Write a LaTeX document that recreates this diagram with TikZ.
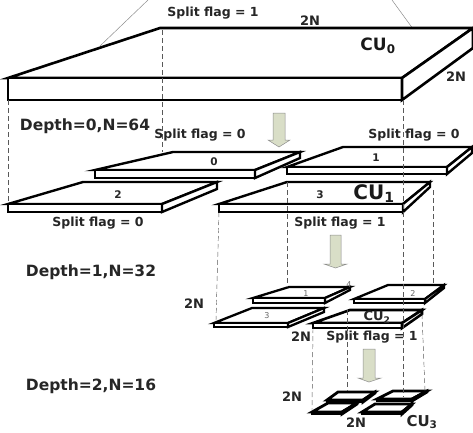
\documentclass[tikz,border=0pt]{standalone}
\usepackage{fontspec}
\setmainfont{DejaVu Sans}
\begin{document}
\begin{tikzpicture}[x=1pt,y=-1pt,
  plateline/.style={draw=black,line join=miter,fill=white},
  guide/.style={draw=black!65,line width=0.45pt,dash pattern=on 5pt off 3pt},
  ray/.style={draw=black!45,line width=0.5pt},
  flag/.style={font=\bfseries\fontsize{12.5}{14}\selectfont,inner sep=0pt,text=black!85},
  dim/.style={font=\bfseries\fontsize{13}{15}\selectfont,inner sep=0pt,text=black!85},
  depth/.style={font=\bfseries\fontsize{15.5}{17}\selectfont,inner sep=0pt,text=black!85},
  num/.style={font=\bfseries\fontsize{10.5}{12}\selectfont,inner sep=0pt,text=black!85},
  tinynum/.style={font=\fontsize{8}{9}\selectfont,inner sep=0pt,text=black!60},
  cu/.style={font=\bfseries\fontsize{17}{19}\selectfont,inner sep=0pt,text=black!90},
  blockarrow/.style={draw=black!45,line width=0.5pt,fill=green!20!yellow!25!gray!35}]
\newcommand{\slab}[9]{%
  \draw[plateline,line width=#9] (#1,#3) -- (#5,#7) -- (#6,#7) -- (#2,#3) -- cycle;
  \draw[plateline,line width=#9] (#1,#3) rectangle (#2,#4);
  \draw[plateline,line width=#9] (#2,#3) -- (#6,#7) -- (#6,#8) -- (#2,#4) -- cycle;}
\useasboundingbox (0,0) rectangle (473,432);
\draw[ray] (100,46) -- (148,0);
\draw[ray] (432,55) -- (392,0);
\slab{8}{402}{78}{100}{160}{473}{28}{48}{2.6pt}
\draw[guide] (162,30) -- (162,152);
\draw[guide] (8,100) -- (8,204);
\slab{95}{255}{170}{178}{173}{300}{152}{158}{2.4pt}
\slab{287}{447}{167}{174}{343}{472}{147}{153}{2.4pt}
\slab{8}{162}{204}{212}{83}{217}{182}{189}{2.4pt}
\slab{219}{403}{204}{212}{287}{430}{182}{187}{2.4pt}
\slab{253}{325}{298}{303}{289}{350}{287}{290}{2.3pt}
\slab{354}{425}{299}{303}{388}{444}{285}{288}{2.3pt}
\slab{214}{288}{323}{327}{252}{324}{308}{312}{2.3pt}
\slab{313}{402}{323}{328}{350}{422}{310}{314}{2.6pt}
\slab{327}{363}{400}{402}{338}{375}{392}{393}{2.8pt}
\slab{377}{412}{399}{401}{393}{427}{391}{392}{2.8pt}
\slab{312}{342}{412}{414}{328}{357}{403}{404}{2.8pt}
\slab{362}{402}{412}{414}{375}{412}{404}{405}{2.8pt}
\draw[guide] (403,100) -- (403,397);
\draw[guide] (287,182) -- (287,287);
\draw[guide] (219,212) -- (216,320);
\draw[guide] (433,190) -- (433,285);
\draw[guide] (313,328) -- (312,410);
\draw[guide] (347,310) -- (347,391);
\draw[guide] (422,314) -- (425,391);
\draw[blockarrow] (273,113) -- (285,113) -- (285,140) -- (290,140) -- (279,147) -- (268,140) -- (273,140) -- cycle;
\draw[blockarrow] (330,235) -- (341,235) -- (341,264) -- (347,264) -- (335.5,268) -- (324,264) -- (330,264) -- cycle;
\draw[blockarrow] (363,349) -- (375,349) -- (375,378) -- (381,378) -- (369,382) -- (358,378) -- (363,378) -- cycle;
\node[flag] (f1) at (213,13) {Split flag = 1};
\node[dim] (d1) at (310,21) {2N};
\node[cu] (c0) at (378,46) {CU\textsubscript{0}};
\node[dim] (d2) at (456,77) {2N};
\node[depth] (dp0) at (85,126) {Depth=0,N=64};
\node[flag] (f2) at (200,135) {Split flag = 0};
\node[flag] (f3) at (414,135) {Split flag = 0};
\node[num] (n0) at (214,162) {0};
\node[num] (n1) at (376,158) {1};
\node[num] (n2) at (118,195) {2};
\node[num] (n3) at (320,195) {3};
\node[cu] (c1) at (374,194) {\fontsize{20}{22}\selectfont CU\textsubscript{1}};
\node[flag] (f4) at (98,223) {Split flag = 0};
\node[flag] (f5) at (340,223) {Split flag = 1};
\node[depth] (dp1) at (91,272) {Depth=1,N=32};
\node[dim] (d3) at (194,304) {2N};
\node[tinynum] (m1) at (306,294) {1};
\node[tinynum] (m4) at (349,285) {4};
\node[tinynum] (m2) at (413,294) {2};
\node[tinynum] (m3) at (267,316) {3};
\node[dim] (c2) at (377,317) {CU\textsubscript{2}};
\node[dim] (d4) at (301,337) {2N};
\node[flag] (f6) at (372,337) {Split flag = 1};
\node[depth] (dp2) at (91,386) {Depth=2,N=16};
\node[dim] (d5) at (292,397) {2N};
\node[dim] (d6) at (356,423) {2N};
\node[dim] (c3) at (422,422) {\fontsize{15}{17}\selectfont CU\textsubscript{3}};
\end{tikzpicture}
\end{document}
